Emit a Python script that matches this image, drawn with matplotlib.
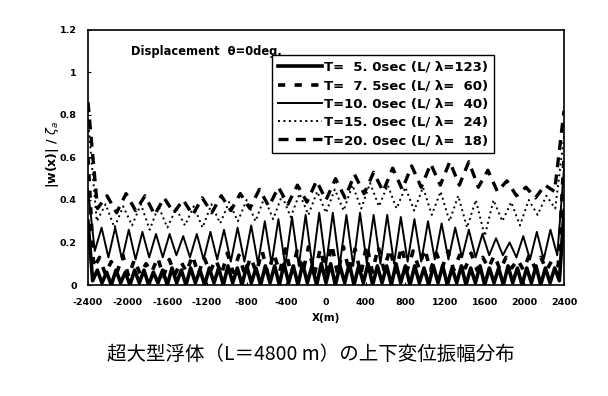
import numpy as np
import matplotlib.pyplot as plt

plt.rcParams['axes.unicode_minus'] = False

# 超大型浮体の上下変位振幅 |w(x)|/ζa  (ピーク・谷を図から読み取り)
x_min, x_max = -2400, 2400

# T=5.0sec (L/λ=123)
t5_end = [0.30, 0.35]
t5_peak = [0.07, 0.06, 0.07, 0.06, 0.07, 0.07, 0.06, 0.07, 0.08, 0.07,
           0.08, 0.07, 0.08, 0.08, 0.09, 0.08, 0.09, 0.08, 0.09, 0.09,
           0.10, 0.09, 0.10, 0.09, 0.10, 0.10, 0.09, 0.10, 0.09, 0.10,
           0.09, 0.09, 0.10, 0.09, 0.09, 0.08, 0.09, 0.09, 0.08, 0.09,
           0.08, 0.09, 0.08, 0.08, 0.09, 0.08, 0.08, 0.09, 0.08, 0.08]
t5_low = [0.02, 0.01, 0.00, 0.01, 0.00, 0.01, 0.00, 0.01, 0.00, 0.01,
          0.00, 0.01, 0.00, 0.01, 0.00, 0.01, 0.00, 0.01, 0.00, 0.01,
          0.00, 0.01, 0.00, 0.01, 0.00, 0.01, 0.00, 0.01, 0.00, 0.01,
          0.00, 0.01, 0.00, 0.01, 0.00, 0.01, 0.00, 0.01, 0.00, 0.01,
          0.00, 0.01, 0.00, 0.01, 0.00, 0.01, 0.00, 0.01, 0.00, 0.01, 0.02]

# T=7.5sec (L/λ=60)
t75_end = [0.60, 0.60]
t75_peak = [0.13, 0.11, 0.14, 0.12, 0.10, 0.13, 0.12, 0.11, 0.14, 0.13,
            0.12, 0.15, 0.14, 0.13, 0.16, 0.15, 0.17, 0.16, 0.18, 0.17,
            0.19, 0.18, 0.17, 0.19, 0.18, 0.17, 0.18, 0.16, 0.17, 0.15,
            0.16, 0.14, 0.15, 0.13, 0.14, 0.13, 0.12, 0.14, 0.13, 0.12]
t75_low = [0.08, 0.05, 0.06, 0.04, 0.05, 0.06, 0.04, 0.05, 0.06, 0.05,
           0.06, 0.05, 0.06, 0.05, 0.06, 0.05, 0.06, 0.05, 0.06, 0.05,
           0.06, 0.05, 0.06, 0.05, 0.06, 0.07, 0.06, 0.07, 0.08, 0.07,
           0.08, 0.07, 0.08, 0.07, 0.08, 0.07, 0.08, 0.07, 0.08, 0.07, 0.09]

# T=10.0sec (L/λ=40)
t10_end = [0.45, 0.55]
t10_peak = [0.27, 0.27, 0.26, 0.25, 0.24, 0.24, 0.23, 0.24, 0.25, 0.26,
            0.27, 0.28, 0.30, 0.31, 0.32, 0.33, 0.34, 0.34, 0.33, 0.34,
            0.33, 0.33, 0.32, 0.31, 0.30, 0.29, 0.27, 0.26, 0.24, 0.22,
            0.20, 0.23, 0.25, 0.26]
t10_low = [0.16, 0.13, 0.12, 0.12, 0.13, 0.13, 0.14, 0.13, 0.12, 0.12,
           0.11, 0.11, 0.10, 0.10, 0.09, 0.09, 0.09, 0.09, 0.09, 0.09,
           0.10, 0.10, 0.10, 0.11, 0.11, 0.12, 0.12, 0.13, 0.13, 0.14,
           0.14, 0.13, 0.12, 0.12, 0.14]

# T=15.0sec (L/λ=24)
t15_end = [0.78, 0.70]
t15_peak = [0.38, 0.37, 0.38, 0.37, 0.36, 0.37, 0.38, 0.39, 0.40, 0.41,
            0.42, 0.43, 0.44, 0.45, 0.47, 0.48, 0.47, 0.46, 0.46, 0.44,
            0.42, 0.40, 0.40, 0.39, 0.40, 0.42]
t15_low = [0.30, 0.27, 0.28, 0.26, 0.27, 0.28, 0.27, 0.29, 0.30, 0.30,
           0.31, 0.32, 0.33, 0.34, 0.35, 0.36, 0.37, 0.36, 0.35, 0.33,
           0.30, 0.27, 0.23, 0.30, 0.28, 0.33, 0.36]

# T=20.0sec (L/λ=18)
t20_end = [0.86, 0.82]
t20_peak = [0.42, 0.43, 0.42, 0.41, 0.40, 0.41, 0.42, 0.43, 0.45, 0.46,
            0.47, 0.49, 0.50, 0.52, 0.53, 0.55, 0.56, 0.57, 0.58, 0.58,
            0.54, 0.49, 0.46, 0.47]
t20_low = [0.36, 0.34, 0.35, 0.33, 0.34, 0.33, 0.34, 0.35, 0.36, 0.37,
           0.38, 0.39, 0.40, 0.41, 0.43, 0.44, 0.45, 0.46, 0.47, 0.47,
           0.46, 0.44, 0.42, 0.41, 0.44]

labels = ['T=  5. 0sec (L/ λ=123)',
          'T=  7. 5sec (L/ λ=  60)',
          'T=10. 0sec (L/ λ=  40)',
          'T=15. 0sec (L/ λ=  24)',
          'T=20. 0sec (L/ λ=  18)']
xticks = [-2400, -2000, -1600, -1200, -800, -400, 0, 400, 800, 1200, 1600, 2000, 2400]
yticks = [0, 0.2, 0.4, 0.6, 0.8, 1, 1.2]


def series(end, peak, low):
    # 谷・山を交互に並べ、両端の値を付ける
    vals = [end[0]]
    for i in range(len(peak)):
        vals += [low[i], peak[i]]
    vals += [low[-1], end[1]]
    xs = np.linspace(x_min, x_max, len(vals))
    return xs, vals


fnt = 'DejaVu Sans'
fig = plt.figure(figsize=(6.08, 3.96), dpi=100)
ax = fig.add_axes([0.1447, 0.2803, 0.783, 0.644])

styles = [dict(lw=2.6, ls='-'),
          dict(lw=2.6, ls=(0, (2.0, 2.6))),
          dict(lw=1.4, ls='-'),
          dict(lw=1.4, ls=(0, (1, 1.8))),
          dict(lw=2.4, ls=(0, (3.0, 2.2)))]
data = [(t5_end, t5_peak, t5_low), (t75_end, t75_peak, t75_low),
        (t10_end, t10_peak, t10_low), (t15_end, t15_peak, t15_low),
        (t20_end, t20_peak, t20_low)]
for (e, p, l), st, lab in zip(data, styles, labels):
    xs, ys = series(e, p, l)
    ax.plot(xs, ys, color='black', label=lab, **st)

ax.set_xlim(x_min, x_max)
ax.set_ylim(0, 1.2)
ax.set_xticks(xticks)
ax.set_yticks(yticks)
ax.set_yticklabels(['0', '0.2', '0.4', '0.6', '0.8', '1', '1.2'])
ax.tick_params(direction='in', length=2, width=0.8, labelsize=6.8)
ax.tick_params(axis='x', pad=9)
ax.tick_params(axis='y', pad=8)
for t in ax.get_xticklabels() + ax.get_yticklabels():
    t.set_fontweight('bold')
    t.set_family(fnt)
for s in ax.spines.values():
    s.set_linewidth(1.2)

ax.set_xlabel('X(m)', fontsize=7.5, fontweight='bold', family=fnt, labelpad=5)
fig.text(0.086, 0.61, '|w(x)| / $\\zeta_a$', rotation=90, fontsize=9,
         fontweight='bold', family=fnt, ha='center', va='center')

ax.text(0.09, 0.915, 'Displacement  θ=0deg.', transform=ax.transAxes,
        fontsize=8.3, fontweight='bold', family=fnt, va='center')

leg = ax.legend(loc='upper left', bbox_to_anchor=(0.387, 0.902),
                prop={'family': fnt, 'weight': 'bold', 'size': 9.5},
                handlelength=3.3, handletextpad=0.15, labelspacing=0.4,
                fancybox=False, framealpha=1, edgecolor='black',
                borderpad=0.45, borderaxespad=0)
leg.get_frame().set_linewidth(1.0)

fig.text(0.512, 0.104, '超大型浮体（L＝4800 m）の上下変位振幅分布',
         fontsize=14, family=['Noto Sans CJK JP', 'DejaVu Sans'],
         ha='center', va='center')

fig.savefig('out.png', dpi=100)
